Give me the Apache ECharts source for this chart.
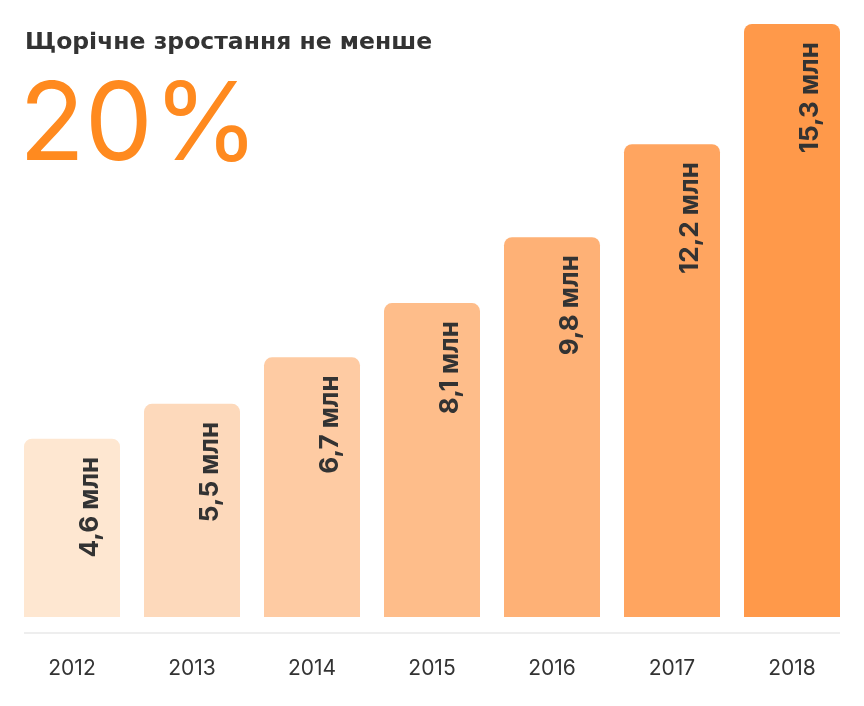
<!DOCTYPE html>
<html>
<head>
<meta charset="utf-8">
<script src="https://cdn.jsdelivr.net/npm/echarts@6/dist/echarts.min.js"></script>
<style>
  html, body { margin: 0; padding: 0; background: #fff; }
  #chart { width: 864px; height: 706px; }
</style>
</head>
<body>
<div id="chart"></div>
<script>
  // дані
  var years = ['2012', '2013', '2014', '2015', '2016', '2017', '2018'];
  var users = [4.6, 5.5, 6.7, 8.1, 9.8, 12.2, 15.3];
  var barColors = ['#FEE7D1', '#FDD9BB', '#FECBA3', '#FEBD8A', '#FEB176', '#FFA560', '#FF994A'];

  var chart = echarts.init(document.getElementById('chart'));

  var option = {
    animation: false,
    textStyle: { fontFamily: 'Inter, Lato, sans-serif' },
    title: [{
      text: 'Щорічне зростання не менше',
      left: 20,
      top: 26,
      textStyle: { fontSize: 23.5, fontWeight: 'bold', color: '#333', fontFamily: 'DejaVu Sans' }
    }, {
      text: '20%',
      left: 14,
      top: 69,
      textStyle: { fontSize: 108, fontWeight: 'normal', color: '#FF8A1F' }
    }],
    grid: { left: 12, right: 12, top: 24, bottom: 89 },
    xAxis: {
      type: 'category',
      data: years,
      offset: 16,
      axisLine: { show: false },
      axisTick: { show: false },
      axisLabel: { fontSize: 21, color: '#333', margin: 25 }
    },
    yAxis: {
      type: 'value',
      min: 0,
      max: 15.3,
      show: false,
      splitLine: { show: false }
    },
    series: [{
      type: 'bar',
      barWidth: 96,
      data: users.map(function (v, i) {
        return { value: v, itemStyle: { color: barColors[i] } };
      }),
      itemStyle: { borderRadius: [8, 8, 0, 0] },
      label: {
        show: true,
        position: 'insideTop',
        distance: 18,
        rotate: 90,
        align: 'right',
        verticalAlign: 'middle',
        offset: [0, 18],
        fontSize: 26,
        fontWeight: 'bold',
        color: '#333',
        formatter: function (p) {
          return String(p.value).replace('.', ',') + ' млн';
        }
      }
    }]
  };

  chart.setOption(option);

  // лінія осі від першого до останнього стовпця
  var first = chart.convertToPixel({ xAxisIndex: 0 }, years[0]);
  var last = chart.convertToPixel({ xAxisIndex: 0 }, years[years.length - 1]);
  var base = chart.convertToPixel({ yAxisIndex: 0 }, 0) + 16;
  chart.setOption({
    graphic: [{
      type: 'line',
      shape: { x1: first - 48, y1: base, x2: last + 48, y2: base },
      style: { stroke: '#DDDDDD', lineWidth: 1 }
    }]
  });
</script>
</body>
</html>
